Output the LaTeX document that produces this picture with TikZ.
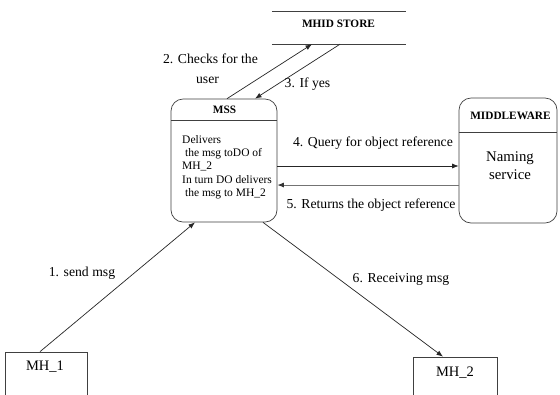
\documentclass[tikz,border=0pt]{standalone}
\usepackage{fontspec}
\setmainfont{Liberation Serif}
\newfontfamily\tms{Liberation Serif}
\usetikzlibrary{arrows.meta}
\begin{document}
\begin{tikzpicture}[x=1bp,y=-1bp,
  lbl/.style={font=\tms\fontsize{13.7bp}{15bp}\selectfont, inner sep=0pt, text height=0.7em, text depth=0.2em},
  ttl/.style={font=\tms\fontsize{11.3bp}{12bp}\selectfont\bfseries, inner sep=0pt, text height=0.7em, text depth=0.2em},
  boxline/.style={draw=black!75, line width=0.7bp},
  arr/.style={draw=black!85, line width=0.7bp, -{Latex[length=6.5bp,width=5bp]}},
  arrg/.style={draw=black!55, line width=0.9bp, -{Latex[length=6.5bp,width=5bp,color=black!80]}},
  box/.style={boxline, rectangle, inner sep=0pt}]
\useasboundingbox (0,0) rectangle (560,394);
\clip (0,0) rectangle (560,394);
\fill[white] (0,0) rectangle (560,394);

% MHID STORE
\node[minimum width=134bp, minimum height=32bp, inner sep=0pt] (mhid) at (339,28) {};
\draw[boxline] (mhid.north west) -- (mhid.north east);
\draw[boxline] (mhid.south west) -- (mhid.south east);
\node[ttl] (mhidt) at (338.5,25) {MHID STORE};

% MSS
\node[box, rounded corners=12bp, minimum width=106bp, minimum height=123bp] (mss) at (224,160.5) {};
\coordinate (mssdl) at (171,120);
\coordinate (mssdr) at (277,120);
\draw[boxline] (mssdl) -- (mssdr);
\node[ttl] (msst) at (224.5,111) {MSS};
\node[font=\tms\fontsize{11.5bp}{13.3bp}\selectfont, inner sep=0pt, align=left, anchor=north west] (msstext) at (182,135)
  {Delivers\\\ the msg toDO of\\MH\_2\\In turn DO delivers\\\ the msg to MH\_2};

% MIDDLEWARE
\node[box, rounded corners=12bp, minimum width=98bp, minimum height=125bp] (mw) at (508,160.5) {};
\coordinate (mwdl) at (459,132);
\coordinate (mwdr) at (557,132);
\draw[boxline] (mwdl) -- (mwdr);
\node[ttl] (mwt) at (510.5,117) {MIDDLEWARE};
\node[font=\tms\fontsize{14.8bp}{18bp}\selectfont, inner sep=0pt, align=center, anchor=north] (mwtext) at (510,151) {Naming\\service};

% MH boxes
\node[box, minimum width=82bp, minimum height=80bp] (mh1) at (46,392) {};
\node[lbl, font=\tms\fontsize{14.5bp}{15bp}\selectfont] (mh1t) at (45,368) {MH\_1};
\node[box, minimum width=84bp, minimum height=80bp] (mh2) at (455,397) {};
\node[lbl, font=\tms\fontsize{14.5bp}{15bp}\selectfont] (mh2t) at (455,374) {MH\_2};

% connectors
\draw[arr] ([xshift=3bp]mss.north) -- ([xshift=-27bp]mhid.south);
\draw[arr] ([xshift=1bp]mhid.south) -- ([xshift=31bp]mss.north);
\draw[arr] ([yshift=-5.5bp]mss.east) -- ([yshift=-5.5bp]mw.west);
\draw[arrg] ([yshift=-24.5bp]mw.west) -- ([yshift=-24.5bp]mss.east);
\draw[arr] ([xshift=-6bp]mh1.north) -- ([xshift=-29bp]mss.south);
\draw[arr] ([xshift=39bp]mss.south) -- ([xshift=-12bp]mh2.north);

% labels
\node[lbl] (l2a) at (210.5,61) {2. Checks for the};
\node[lbl] (l2b) at (207.5,81) {user};
\node[lbl] (l3) at (307.5,85) {3. If yes};
\node[lbl] (l4) at (373,144) {4. Query for object reference};
\node[lbl] (l5) at (371,206) {5. Returns the object reference};
\node[lbl] (l1) at (82,274) {1. send msg};
\node[lbl] (l6) at (401,280) {6. Receiving msg};
\end{tikzpicture}
\end{document}
